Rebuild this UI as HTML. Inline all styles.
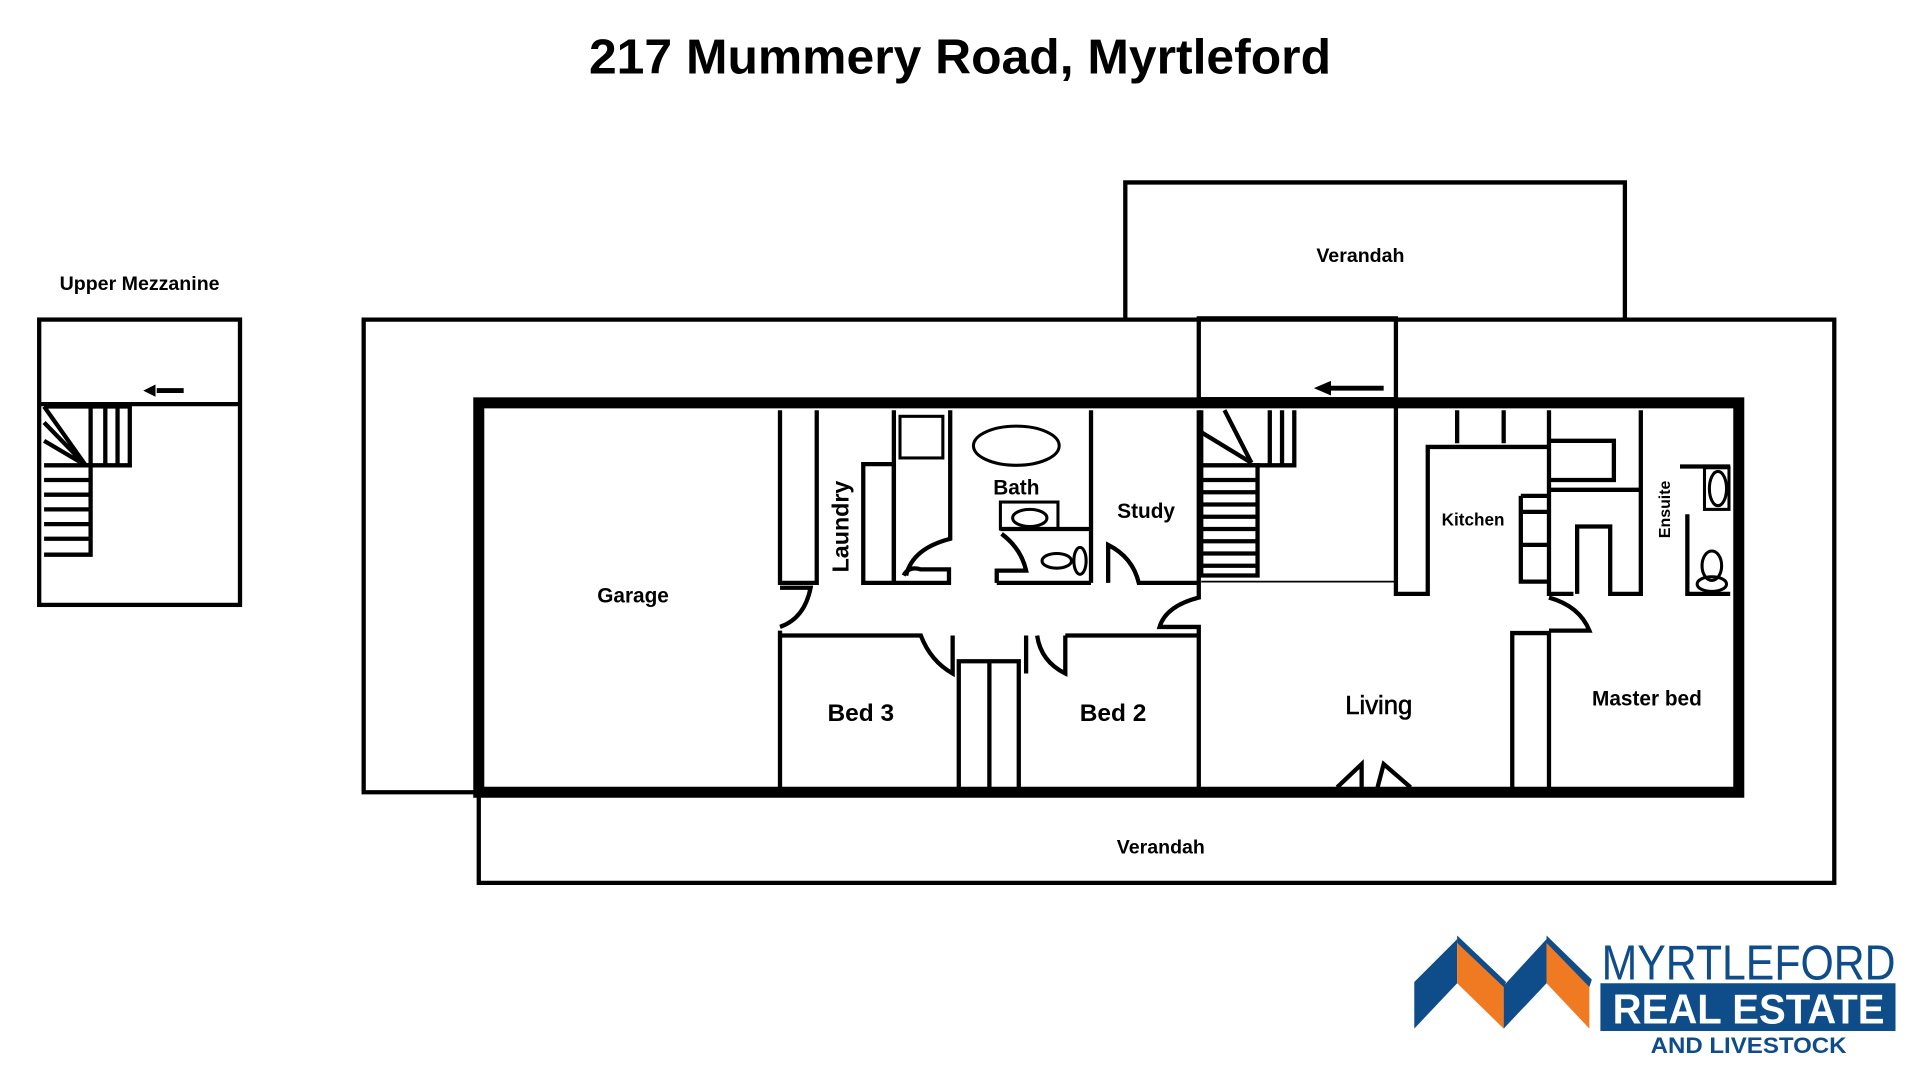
<!DOCTYPE html>
<html><head><meta charset="utf-8"><style>
html,body{margin:0;padding:0;background:#fff;}
svg{display:block}
text{font-family:"Liberation Sans",sans-serif;font-weight:bold;fill:#000}
</style></head><body>
<svg width="1920" height="1080" viewBox="0 0 1568 882" preserveAspectRatio="none" xmlns="http://www.w3.org/2000/svg">
<text x="784" y="60" font-size="40" text-anchor="middle" textLength="606" lengthAdjust="spacingAndGlyphs">217 Mummery Road, Myrtleford</text>

<g fill="none" stroke="#000" stroke-width="3.5" stroke-linejoin="miter">
<rect x="32" y="261" width="164" height="233"/>
<line x1="32" y1="330" x2="196" y2="330"/>
<line x1="128" y1="319" x2="150" y2="319" stroke-width="4"/>
<path d="M36 332 L74 332 L74 453 L36 453"/>
<path d="M36 332 L70 380 M36 345 L70 380 M36 360 L70 380 M74 332 L106 332 L106 380 L70 380 M86 332 L86 380 M96 332 L96 380"/>
<path d="M36 380 L74 380 M36 392 L74 392 M36 404 L74 404 M36 416 L74 416 M36 428 L74 428 M36 440 L74 440"/>

<path d="M390 647 L297 647 L297 261 L1498 261 L1498 721 L391 721 L391 647"/>
<path d="M919 261 L919 149 L1327 149 L1327 261"/>
<rect x="979" y="260" width="161" height="66"/>
<line x1="1085" y1="317" x2="1130" y2="317" stroke-width="4"/>

<path d="M637 335 L637 476 L667 476 L667 335"/>
<path d="M637 515 L637 643"/>
<path d="M705 476 L705 379 L730 379 L730 476 Z"/>
<path d="M730 335 L730 476 L775 476 L775 465 L752 465 Q742 462 738 470"/>
<path d="M776 335 L776 440 Q745 448 740 470"/>
<rect x="735" y="340" width="35" height="34" stroke-width="2.5"/>
<ellipse cx="830" cy="364" rx="35" ry="16" stroke-width="2.5"/>
<rect x="817" y="410" width="47" height="22" stroke-width="2.5"/>
<ellipse cx="841" cy="423" rx="14" ry="7" stroke-width="2.5"/>
<path d="M817 432 L891 432 M814 476 L891 476 M814 476 L814 466 L838 466 Q834 448 818 436"/>
<ellipse cx="863" cy="458" rx="12" ry="6" stroke-width="2.5"/>
<ellipse cx="882" cy="458" rx="5" ry="11" stroke-width="2.5"/>
<path d="M891 335 L891 476"/>
<path d="M905 476 L905 445 Q925 455 930 476 L979 476"/>
<path d="M979 335 L979 488 Q952 495 947 512 L979 512 L979 643"/>
<path d="M637 480 L662 480 Q657 505 637 512"/>
<path d="M637 519 L752 519 Q760 540 778 550 L778 519 M783 643 L783 540 L832 540 L832 643 M808 540 L808 643 M838 519 L838 550 M870 519 L870 550 Q850 540 847 519 M870 519 L979 519"/>
<path d="M981 335 L981 470 L1027 470 L1027 380 L981 380"/>
<path d="M981 353 L1022 378 M1000 335 L1022 378 M1022 380 L1057 380 L1057 335 M1037 335 L1037 380 M1047 335 L1047 380"/>
<path d="M981 392 L1027 392 M981 402 L1027 402 M981 412 L1027 412 M981 422 L1027 422 M981 432 L1027 432 M981 442 L1027 442 M981 452 L1027 452 M981 462 L1027 462"/>
<line x1="981" y1="475" x2="1140" y2="475" stroke-width="1.5"/>
<path d="M1140 326 L1140 485 L1166 485 L1166 365 L1265 365"/>
<path d="M1190 335 L1190 362 M1228 335 L1228 362"/>
<path d="M1265 335 L1265 485 L1285 485"/>
<path d="M1242 405 L1265 405 M1242 405 L1242 475 L1265 475 M1242 418 L1265 418 M1242 445 L1265 445"/>
<path d="M1265 360 L1318 360 L1318 392 L1265 392 M1265 400 L1340 400"/>
<path d="M1288 485 L1288 430 L1315 430 L1315 485 L1340 485 L1340 335"/>
<path d="M1265 488 Q1290 495 1298 515 L1265 515"/>
<path d="M1372 381 L1413 381 M1378 420 L1378 485 L1413 485"/>
<rect x="1392" y="382" width="20" height="34" stroke-width="2.5"/>
<ellipse cx="1403" cy="399" rx="7" ry="14" stroke-width="2.5"/>
<ellipse cx="1398" cy="462" rx="8" ry="12" stroke-width="2.5"/>
<ellipse cx="1398" cy="477" rx="12" ry="6" stroke-width="2.5"/>
<path d="M1235 643 L1235 517 L1265 517 L1265 643"/>
<path d="M1092 643 L1112 624 L1112 643 M1152 643 L1130 624 L1125 643"/>
</g>
<rect x="391" y="329" width="1029" height="318" fill="none" stroke="#000" stroke-width="9"/>
<polygon points="117,319 127,314 127,324" fill="#000"/>
<polygon points="1073,317 1087,311 1087,323" fill="#000"/>

<text x="114" y="237" font-size="16" text-anchor="middle">Upper Mezzanine</text>
<text x="1111" y="214" font-size="16" text-anchor="middle">Verandah</text>
<text x="948" y="697" font-size="16" text-anchor="middle">Verandah</text>
<text x="517" y="492" font-size="17" text-anchor="middle">Garage</text>
<text x="703" y="589" font-size="20" text-anchor="middle">Bed 3</text>
<text x="909" y="589" font-size="20" text-anchor="middle">Bed 2</text>
<text x="1126" y="583" font-size="21" text-anchor="middle" style="font-weight:normal;stroke:#000;stroke-width:0.5">Living</text>
<text x="1345" y="576" font-size="17" text-anchor="middle">Master bed</text>
<text x="1203" y="429" font-size="14" text-anchor="middle">Kitchen</text>
<text x="830" y="404" font-size="17" text-anchor="middle">Bath</text>
<text x="936" y="423" font-size="17" text-anchor="middle">Study</text>
<text x="0" y="0" font-size="19" text-anchor="middle" transform="translate(693,430) rotate(-90)">Laundry</text>
<text x="0" y="0" font-size="13" text-anchor="middle" transform="translate(1364,416) rotate(-90)">Ensuite</text>

<polygon points="1155,802 1190,767 1190,803 1155,840" fill="#0f4c8a"/>
<polygon points="1190,767 1228,805 1228,840 1190,803" fill="#f07a22"/>
<polygon points="1190,764 1230,802 1228,806 1190,770" fill="#0f4c8a"/>
<polygon points="1228,805 1263,767 1263,803 1228,840" fill="#0f4c8a"/>
<polygon points="1263,767 1298,805 1298,840 1263,803" fill="#f07a22"/>
<polygon points="1263,764 1300,800 1298,806 1263,770" fill="#0f4c8a"/>
<text x="1308" y="800" font-size="40" style="font-weight:normal;fill:#0f4c8a" textLength="240" lengthAdjust="spacingAndGlyphs">MYRTLEFORD</text>
<rect x="1307" y="803" width="241" height="39" fill="#0f4c8a"/>
<text x="1428" y="836" font-size="34" text-anchor="middle" style="fill:#fff" textLength="222" lengthAdjust="spacingAndGlyphs">REAL ESTATE</text>
<text x="1428" y="860" font-size="18" text-anchor="middle" style="fill:#0f4c8a" textLength="160" lengthAdjust="spacingAndGlyphs">AND LIVESTOCK</text>
</svg>
</body></html>
